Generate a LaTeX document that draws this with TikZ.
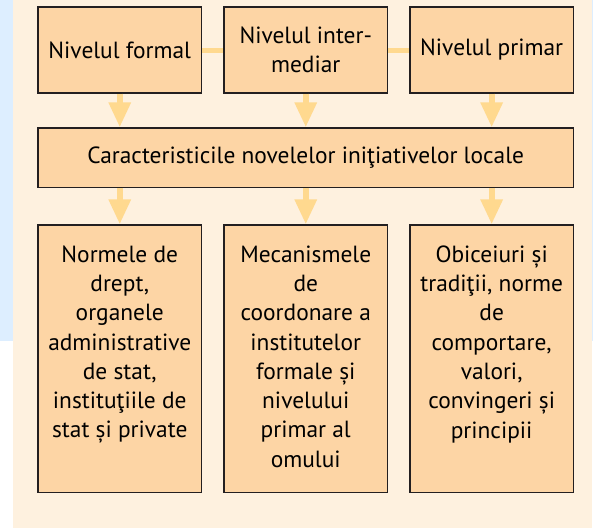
\documentclass[tikz,border=0pt]{standalone}
\usepackage{fontspec}
\setmainfont{PT Sans}
\usetikzlibrary{arrows.meta,calc}
\definecolor{bgblue}{HTML}{DDEEFF}
\definecolor{cream}{HTML}{FEF1DF}
\definecolor{peach}{HTML}{FDD5A5}
\definecolor{arrowc}{HTML}{FFD98F}
\definecolor{border}{HTML}{231F20}
\tikzset{
  box/.style={draw=border, line width=1.3pt, fill=peach, rectangle, inner sep=0pt, align=center,
    font=\fontsize{23.4}{29.3}\selectfont},
  txt/.style={inner sep=0pt, align=center, font=\fontsize{23.4}{29.3}\selectfont},
  conn/.style={draw=arrowc, line width=5pt},
  arr/.style={draw=arrowc, line width=6pt, -{Triangle[width=21pt,length=25pt]}}
}
\begin{document}
\begin{tikzpicture}[x=1pt,y=-1pt]
\useasboundingbox (0,0) rectangle (593,528);
\fill[white] (0,0) rectangle (593,528);
\fill[bgblue] (0,0) rectangle (13.3,340.7);
\fill[bgblue] (591.7,0) rectangle (593,340.7);
\fill[cream] (13.3,0) rectangle (591.7,528);
% top row
\node[box, minimum width=163.5pt, minimum height=86pt] (t1) at (119.75,50) {Nivelul formal};
\node[box, minimum width=163.5pt, minimum height=86pt] (t2) at (305.75,50) {Nivelul inter-\\mediar};
\node[box, minimum width=163.3pt, minimum height=86pt] (t3) at (491.65,50) {Nivelul primar};
% middle
\node[box, minimum width=535.3pt, minimum height=59.3pt] (mid) at (305.65,157.65) {Caracteristicile novelelor iniţiativelor locale};
% bottom row
\node[box, minimum width=163.5pt, minimum height=267.3pt] (b1) at (119.75,358.65) {};
\node[box, minimum width=163.5pt, minimum height=267.3pt] (b2) at (305.75,358.65) {};
\node[box, minimum width=163.3pt, minimum height=267.3pt] (b3) at (491.65,358.65) {};
\node[txt, anchor=north] (x1) at ($(b1.north)+(0,21)$) {Normele de\\drept,\\organele\\administrative\\de stat,\\instituţiile de\\stat și private};
\node[txt, anchor=north] (x2) at ($(b2.north)+(0,21)$) {Mecanismele\\de\\coordonare a\\institutelor\\formale și\\nivelului\\primar al\\omului};
\node[txt, anchor=north] (x3) at ($(b3.north)+(0,21)$) {Obiceiuri și\\tradiţii, norme\\de\\comportare,\\valori,\\convingeri și\\principii};
% connectors
\draw[conn] (t1.east) -- (t2.west);
\draw[conn] (t2.east) -- (t3.west);
\draw[arr] (t1.south) -- (t1.south |- mid.north);
\draw[arr] (t2.south) -- (t2.south |- mid.north);
\draw[arr] (t3.south) -- (t3.south |- mid.north);
\draw[arr] (mid.south -| b1.north) -- (b1.north);
\draw[arr] (mid.south -| b2.north) -- (b2.north);
\draw[arr] (mid.south -| b3.north) -- (b3.north);
\end{tikzpicture}
\end{document}
